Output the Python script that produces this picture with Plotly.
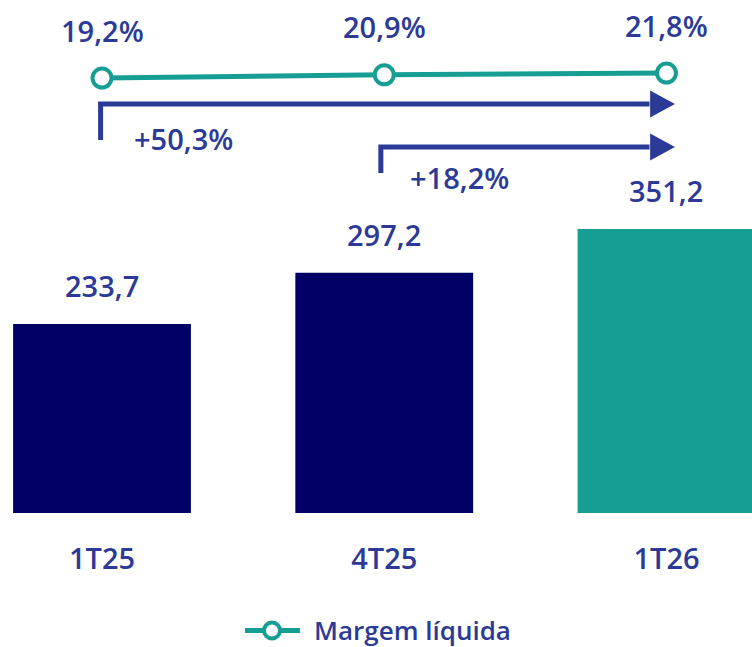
import plotly.graph_objects as go

categories = ["1T25", "4T25", "1T26"]
lucro = [233.7, 297.2, 351.2]
lucro_labels = ["233,7", "297,2", "351,2"]
margem = [19.2, 20.9, 21.8]
margem_labels = ["19,2%", "20,9%", "21,8%"]
growth_labels = ["+50,3%", "+18,2%"]
legend_label = "Margem líquida"

NAVY = "#000066"
TEAL = "#179E93"
BLUE = "#2B3A97"
FONT = "Open Sans"

xs = list(range(len(categories)))
bar_colors = [NAVY, NAVY, TEAL]

fig = go.Figure()
fig.add_trace(go.Bar(
    x=xs, y=lucro, marker=dict(color=bar_colors, line=dict(width=0)),
    width=0.63, showlegend=False, hoverinfo="skip",
))
fig.add_trace(go.Scatter(
    x=xs, y=margem, yaxis="y2", mode="lines+markers", name=legend_label,
    line=dict(color=TEAL, width=5), showlegend=False, hoverinfo="skip",
    marker=dict(symbol="circle", size=19, color="white", line=dict(color=TEAL, width=4)),
))

annotations = []
for i, (v, t) in enumerate(zip(lucro, lucro_labels)):
    annotations.append(dict(x=xs[i], y=v, xref="x", yref="y", text=t, showarrow=False,
                            yshift=38, font=dict(family=FONT, size=29, color=BLUE, weight=600)))
for i, (v, t) in enumerate(zip(margem, margem_labels)):
    annotations.append(dict(x=xs[i], y=v, xref="x", yref="y2", text=t, showarrow=False,
                            yshift=48, font=dict(family=FONT, size=29, color=BLUE, weight=600)))

# growth arrows: (start index, horizontal level, bottom of stem, label dx, label yshift)
shapes = []
arrows = [(0, 505.7, 461.2, growth_labels[0], 0.29, -34), (1, 452.6, 420.4, growth_labels[1], 0.265, -31)]
last = xs[-1]
for start, yh, ylow, lab, dx, ys in arrows:
    s = start - 0.005 if start == 0 else start - 0.012
    shapes.append(dict(type="path", xref="x", yref="y",
                       path=f"M {s},{ylow} L {s},{yh} L {last - 0.06},{yh}",
                       line=dict(color=BLUE, width=5)))
    shapes.append(dict(type="path", xref="x", yref="y",
                       path=f"M {last - 0.058},{yh + 16.7} L {last + 0.03},{yh} L {last - 0.058},{yh - 16.7} Z",
                       fillcolor=BLUE, line=dict(color=BLUE, width=0)))
    annotations.append(dict(x=start + dx, y=yh, xref="x", yref="y", text=lab, showarrow=False,
                            yshift=ys, font=dict(family=FONT, size=29, color=BLUE, weight=600)))

# legend (drawn manually to match the long line symbol)
LY = -0.229
shapes.append(dict(type="line", xref="paper", yref="paper", x0=0.3258, x1=0.3989, y0=LY, y1=LY,
                   line=dict(color=TEAL, width=5)))
shapes.append(dict(type="circle", xref="paper", yref="paper", xsizemode="pixel", ysizemode="pixel",
                   xanchor=0.3617, yanchor=LY, x0=-8, x1=8, y0=-8, y1=8,
                   fillcolor="white", line=dict(color=TEAL, width=4)))
annotations.append(dict(x=0.4149, y=LY, xref="paper", yref="paper", text=legend_label,
                        showarrow=False, xanchor="left", yanchor="middle",
                        font=dict(family=FONT, size=26, color=BLUE, weight=600)))

fig.update_layout(
    width=752, height=647,
    margin=dict(l=0, r=0, t=0, b=134),
    plot_bgcolor="white", paper_bgcolor="white",
    xaxis=dict(range=[-0.3614, 2.303], tickvals=xs, ticktext=categories,
               showgrid=False, zeroline=False, showline=False, ticks="",
               ticklabelstandoff=26, fixedrange=True,
               tickfont=dict(family=FONT, size=29, color=BLUE, weight=600)),
    yaxis=dict(range=[0, 634.3], visible=False, showgrid=False, zeroline=False, fixedrange=True),
    yaxis2=dict(range=[-207.0, 59.8], overlaying="y", visible=False, showgrid=False,
                zeroline=False, fixedrange=True),
    showlegend=False,
    annotations=annotations, shapes=shapes,
)

fig.write_html("out.html",
               config={"displayModeBar": False},
               post_script="document.body.style.margin='0';document.body.style.overflow='hidden';")
